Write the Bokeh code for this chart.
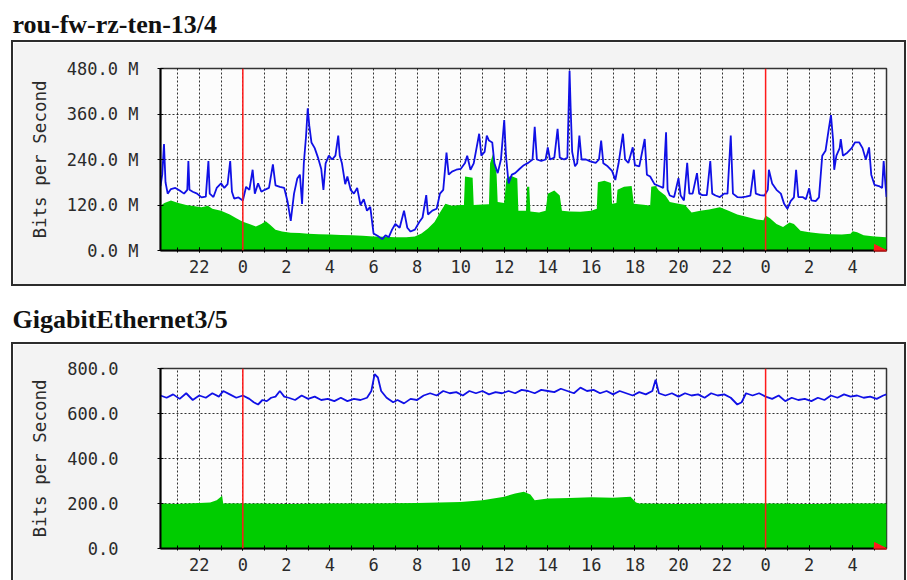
from bokeh.plotting import figure
from bokeh.layouts import column
from bokeh.models import Range1d, FixedTicker, Span, Arrow, NormalHead
from bokeh.embed import file_html
from bokeh.resources import INLINE

# ---------------- data ----------------
# time axis in hours, relative to the first midnight shown
X_START = -3.78
X_END = 29.55
x_ticks = [-2, 0, 2, 4, 6, 8, 10, 12, 14, 16, 18, 20, 22, 24, 26, 28]
x_tick_labels = ["22", "0", "2", "4", "6", "8", "10", "12", "14", "16", "18", "20", "22", "0", "2", "4"]
x_hours = list(range(-3, 30))
midnights = [0, 24]

# panel 1
top_title = "rou-fw-rz-ten-13/4"
top_ymax = 480
top_y_ticks = [0, 120, 240, 360, 480]
top_y_labels = ["0.0 M", "120.0 M", "240.0 M", "360.0 M", "480.0 M"]

top_in_h = [-3.78, -3.6, -3.3, -3.0, -2.6, -2.2, -1.9, -1.6, -1.4, -1.0, -0.6, -0.3, 0.0, 0.3, 0.6,
            0.85, 1.05, 1.25, 1.5, 1.8, 2.2, 2.6, 3.0, 3.5, 4.0, 4.5, 5.0, 5.5, 6.0, 6.5, 7.0, 7.5,
            7.9, 8.2, 8.5, 8.8, 9.05, 9.3, 9.6, 10.0, 10.15, 10.2, 10.55, 10.6, 11.0, 11.3, 11.35,
            11.5, 11.65, 11.7, 12.0, 12.1, 12.3, 12.6, 12.65, 13.0, 13.05, 13.15, 13.2, 13.6, 13.9,
            14.0, 14.3, 14.55, 14.65, 15.0, 15.5, 16.0, 16.25, 16.3, 16.6, 16.9, 16.95, 17.15, 17.2,
            17.5, 17.85, 17.95, 18.5, 18.7, 18.75, 18.95, 19.1, 19.4, 19.6, 20.0, 20.3, 20.6, 21.0,
            21.4, 21.9, 22.3, 22.7, 23.2, 23.6, 23.9, 24.0, 24.2, 24.5, 24.8, 25.1, 25.3, 25.6, 26.0,
            26.5, 27.0, 27.5, 27.9, 28.0, 28.2, 28.5, 29.0, 29.55]
top_in_v = [118, 125, 132, 126, 120, 117, 114, 118, 110, 105, 95, 85, 76, 70, 63,
            70, 77, 68, 55, 50, 47, 46, 44, 43, 42, 41, 40, 39, 37, 36, 35, 35,
            37, 45, 58, 75, 100, 123, 118, 120, 120, 195, 192, 120, 121, 122, 230,
            258, 200, 128, 125, 190, 197, 190, 105, 105, 168, 168, 103, 100, 105,
            150, 158, 145, 105, 103, 102, 105, 110, 180, 184, 178, 123, 125, 160,
            168, 170, 123, 120, 118, 168, 170, 158, 145, 128, 123, 120, 100, 105,
            108, 114, 105, 95, 88, 82, 80, 92, 85, 70, 62, 74, 70, 52, 48,
            45, 43, 42, 44, 51, 48, 40, 37, 35]

top_out_h = [-3.78, -3.7, -3.62, -3.55, -3.45, -3.3, -3.1, -2.9, -2.7, -2.55, -2.5, -2.45, -2.3,
             -2.1, -1.9, -1.7, -1.58, -1.52, -1.35, -1.2, -1.0, -0.85, -0.7, -0.58, -0.5, -0.4,
             -0.2, 0.0, 0.15, 0.3, 0.45, 0.55, 0.7, 0.85, 1.0, 1.2, 1.38, 1.5, 1.7, 1.9, 2.05, 2.2,
             2.35, 2.5, 2.62, 2.72, 2.8, 2.9, 2.98, 3.05, 3.15, 3.3, 3.45, 3.6, 3.7, 3.8, 3.95, 4.1,
             4.25, 4.38, 4.45, 4.55, 4.7, 4.8, 4.95, 5.1, 5.25, 5.4, 5.55, 5.7, 5.85, 6.0, 6.2, 6.4,
             6.55, 6.7, 6.85, 7.0, 7.2, 7.4, 7.55, 7.7, 7.9, 8.1, 8.25, 8.42, 8.5, 8.7, 8.9, 9.05,
             9.2, 9.35, 9.45, 9.6, 9.8, 10.0, 10.2, 10.3, 10.45, 10.6, 10.85, 10.95, 11.1, 11.2,
             11.3, 11.45, 11.55, 11.7, 11.85, 12.0, 12.08, 12.2, 12.35, 12.5, 12.7, 12.9, 13.1,
             13.3, 13.4, 13.5, 13.7, 13.9, 14.0, 14.1, 14.3, 14.45, 14.55, 14.75, 14.9, 15.0,
             15.05, 15.12, 15.25, 15.35, 15.45, 15.55, 15.75, 15.95, 16.2, 16.35, 16.45, 16.55,
             16.75, 16.95, 17.1, 17.25, 17.45, 17.55, 17.7, 17.9, 18.0, 18.2, 18.45, 18.55, 18.7,
             18.9, 19.1, 19.3, 19.43, 19.5, 19.6, 19.8, 20.0, 20.1, 20.25, 20.4, 20.5, 20.65,
             20.85, 20.95, 21.1, 21.3, 21.46, 21.55, 21.7, 21.9, 22.1, 22.25, 22.4, 22.5, 22.7,
             22.9, 23.1, 23.3, 23.46, 23.55, 23.75, 23.95, 24.1, 24.15, 24.3, 24.5, 24.7, 24.85,
             25.0, 25.15, 25.3, 25.4, 25.5, 25.7, 25.85, 26.0, 26.1, 26.3, 26.45, 26.6, 26.75,
             26.9, 27.0, 27.1, 27.15, 27.25, 27.4, 27.45, 27.55, 27.75, 27.95, 28.1, 28.3, 28.45,
             28.6, 28.75, 28.85, 29.0, 29.2, 29.35, 29.42, 29.5, 29.55]
top_out_v = [170, 200, 281, 180, 150, 162, 165, 158, 150, 160, 236, 160, 155,
             150, 140, 142, 236, 150, 141, 165, 177, 165, 175, 236, 155, 137,
             140, 132, 168, 160, 213, 150, 177, 155, 160, 165, 227, 172, 168, 165, 130, 78,
             150, 190, 200, 123, 230, 300, 375, 330, 285, 270, 245, 215, 160, 230, 250, 240,
             250, 303, 250, 230, 175, 195, 160, 150, 165, 120, 135, 105, 115, 45, 38, 30,
             40, 35, 55, 70, 60, 105, 60, 50, 55, 75, 87, 146, 95, 105, 110, 150,
             160, 258, 200, 208, 213, 215, 231, 250, 213, 230, 308, 250, 260, 303,
             290, 285, 230, 204, 240, 344, 250, 177, 200, 204, 215, 225, 231,
             240, 326, 240, 236, 240, 272, 240, 245, 321, 245, 240, 245, 474,
             375, 260, 222, 230, 303, 240, 240, 235, 231, 240, 290, 230,
             222, 210, 186, 230, 308, 240, 231, 272, 225, 222, 294, 200, 195,
             175, 170, 165, 312, 160, 145, 141, 191, 145, 132, 231, 150, 150,
             204, 150, 146, 146, 236, 150, 145, 141, 150, 150, 303, 150, 141,
             140, 142, 145, 213, 150, 146, 145, 160, 213, 177, 160, 150, 123,
             110, 130, 140, 213, 141, 141, 135, 164, 132, 130, 140, 250, 263,
             321, 357, 290, 213, 250, 270, 294, 250, 258, 270, 285, 285, 270,
             240, 272, 200, 173, 170, 165, 236, 175, 141]

# panel 2
bottom_title = "GigabitEthernet3/5"
bottom_ymax = 800
bottom_y_ticks = [0, 200, 400, 600, 800]
bottom_y_labels = ["0.0", "200.0", "400.0", "600.0", "800.0"]

bottom_in_h = [-3.78, -3.0, -2.0, -1.5, -1.2, -0.95, -0.9, 0.0, 2.0, 4.0, 6.0, 8.0, 9.0, 10.0,
               11.0, 12.0, 12.5, 12.9, 13.2, 13.4, 14.0, 15.0, 16.0, 17.0, 17.8, 18.05, 18.2,
               20.0, 22.0, 24.0, 26.0, 28.0, 29.55]
bottom_in_v = [200, 198, 202, 205, 215, 235, 200, 200, 198, 200, 200, 202, 205, 207,
               215, 230, 245, 252, 240, 215, 222, 225, 228, 226, 230, 205, 200,
               198, 200, 200, 198, 200, 200]

bottom_out_h = [-3.78, -3.5, -3.2, -2.9, -2.6, -2.3, -2.0, -1.7, -1.4, -1.1, -0.9, -0.6, -0.3,
                0.0, 0.3, 0.5, 0.7, 0.9, 1.1, 1.3, 1.5, 1.7, 1.9, 2.1, 2.4, 2.7, 3.0, 3.3, 3.6,
                3.9, 4.2, 4.5, 4.8, 5.1, 5.4, 5.7, 5.9, 6.05, 6.2, 6.35, 6.6, 6.9, 7.1, 7.4, 7.7,
                8.0, 8.3, 8.6, 8.9, 9.2, 9.5, 9.8, 10.1, 10.4, 10.7, 11.0, 11.3, 11.6, 11.9, 12.2,
                12.5, 12.8, 13.1, 13.4, 13.7, 14.0, 14.3, 14.6, 14.9, 15.2, 15.5, 15.8, 16.1,
                16.4, 16.7, 17.0, 17.3, 17.6, 17.9, 18.2, 18.5, 18.8, 18.95, 19.1, 19.4, 19.7,
                20.0, 20.3, 20.6, 20.9, 21.2, 21.5, 21.8, 22.1, 22.4, 22.7, 22.9, 23.1, 23.4,
                23.7, 24.0, 24.3, 24.6, 24.9, 25.2, 25.5, 25.8, 26.1, 26.4, 26.7, 27.0, 27.3,
                27.6, 27.9, 28.2, 28.5, 28.8, 29.1, 29.4, 29.55]
bottom_out_v = [680, 670, 685, 665, 690, 660, 680, 670, 690, 675, 700, 685, 670,
                680, 665, 650, 640, 660, 655, 670, 675, 700, 675, 670, 660, 680, 665, 675, 660,
                665, 655, 670, 655, 665, 660, 670, 700, 775, 760, 700, 670, 650, 660, 645, 665,
                660, 680, 690, 680, 700, 690, 695, 680, 700, 690, 700, 685, 695, 690, 700,
                690, 705, 700, 690, 705, 700, 695, 710, 700, 690, 715, 700, 705,
                690, 700, 685, 700, 690, 680, 695, 685, 700, 750, 690, 680, 690,
                675, 690, 680, 685, 670, 690, 680, 685, 670, 640, 650, 690, 680,
                690, 675, 665, 680, 655, 670, 660, 665, 655, 670, 660, 680, 670,
                685, 675, 680, 670, 675, 665, 680, 685]

# ---------------- styling ----------------
MONO = "DejaVu Sans Mono"
GREEN = "#00cc00"
BLUE = "#1010e6"
RED = "#ff1a1a"
BOX_W = 895          # outer width (border-box)
MB_LEFT = 147
MB_RIGHT = 22
BORDER = "2px solid #2c2c2c"


def title_fig(text, height, top_border):
    t = figure(width=BOX_W, height=height, x_range=Range1d(X_START, X_END),
               y_range=Range1d(0, 1), toolbar_location=None, output_backend="svg",
               x_axis_location=None, y_axis_location=None, title=text,
               min_border_left=MB_LEFT, min_border_right=MB_RIGHT,
               min_border_top=top_border, min_border_bottom=0,
               border_fill_color="white", background_fill_color="white",
               styles={"margin-left": "11px"})
    t.grid.visible = False
    t.outline_line_color = None
    t.line(x=[X_START, X_END], y=[0, 0], line_alpha=0)
    t.title.align = "left"
    t.title.offset = -146
    t.title.standoff = 0
    t.title.text_font = "Liberation Serif"
    t.title.text_font_style = "bold"
    t.title.text_font_size = "26px"
    t.title.text_color = "#111111"
    return t


def panel(height, mbt, mbb, ymax, yticks, ylabels, label_standoff, in_h, in_v, out_h, out_v,
          css):
    p = figure(width=BOX_W, height=height, x_range=Range1d(X_START, X_END),
               y_range=Range1d(0, ymax), toolbar_location=None, output_backend="svg",
               min_border_left=MB_LEFT, min_border_right=MB_RIGHT, min_border_top=mbt,
               min_border_bottom=mbb, border_fill_color="#f3f3f3",
               background_fill_color="#fcfcfc", styles=css)
    p.varea(x=in_h, y1=[0] * len(in_h), y2=in_v, fill_color=GREEN)
    p.line(x=out_h, y=out_v, line_color=BLUE, line_width=1.8)

    for m in midnights:
        p.add_layout(Span(location=m, dimension="height", line_color=RED, line_width=1.5))

    p.xaxis.ticker = FixedTicker(ticks=x_ticks, minor_ticks=x_hours)
    p.xaxis.major_label_overrides = dict(zip(x_ticks, x_tick_labels))
    p.yaxis.ticker = FixedTicker(ticks=yticks, minor_ticks=[])
    p.yaxis.major_label_overrides = dict(zip(yticks, ylabels))
    p.xgrid.ticker = FixedTicker(ticks=x_hours)
    p.ygrid.ticker = FixedTicker(ticks=yticks)
    p.grid.grid_line_color = "#000000"
    p.grid.grid_line_dash = "2 2"
    p.grid.grid_line_alpha = 0.8
    p.grid.grid_line_width = 1

    for ax in (p.xaxis[0], p.yaxis[0]):
        ax.axis_line_color = "#000000"
        ax.axis_line_width = 2
        ax.major_tick_line_color = "#000000"
        ax.minor_tick_line_color = "#000000"
        ax.major_tick_in = 3
        ax.major_tick_out = 3
        ax.minor_tick_in = 3
        ax.minor_tick_out = 2
        ax.major_label_text_font = MONO
        ax.major_label_text_font_size = "17px"
        ax.major_label_text_color = "#2a2a2a"
    p.xaxis.major_tick_out = 2
    p.xaxis.major_label_standoff = 7
    p.yaxis.major_label_standoff = label_standoff
    p.yaxis.axis_label = "Bits per Second"
    p.yaxis.axis_label_text_font = MONO
    p.yaxis.axis_label_text_font_size = "17.5px"
    p.yaxis.axis_label_text_font_style = "normal"
    p.yaxis.axis_label_text_color = "#2a2a2a"
    p.yaxis.axis_label_standoff = 14
    p.outline_line_color = "#333333"
    p.outline_line_width = 1.5

    # red arrow head at the end of the time axis
    p.add_layout(Arrow(end=NormalHead(size=12, fill_color=RED, line_color=RED),
                       x_start=X_END - 0.6, y_start=0, x_end=X_END, y_end=0,
                       line_color=RED, line_width=2))
    return p


t1 = title_fig(top_title, 40, 38)
p1 = panel(246, 26, 38, top_ymax, top_y_ticks, top_y_labels, 19,
           top_in_h, top_in_v, top_out_h, top_out_v,
           {"border": BORDER, "margin-left": "11px"})
t2 = title_fig(bottom_title, 56, 47)
p2 = panel(238, 24, 34, bottom_ymax, bottom_y_ticks, bottom_y_labels, 39,
           bottom_in_h, bottom_in_v, bottom_out_h, bottom_out_v,
           {"border": BORDER, "border-bottom": "none", "margin-left": "11px"})

layout = column(t1, p1, t2, p2, spacing=0)
open("out.html", "w").write(file_html(layout, INLINE))
